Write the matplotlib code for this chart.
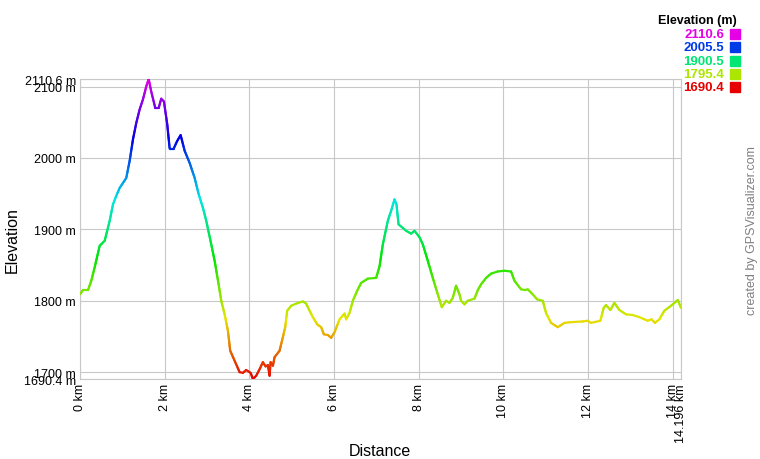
import numpy as np
import matplotlib
matplotlib.use("Agg")
import matplotlib.pyplot as plt
from matplotlib.collections import LineCollection
from matplotlib.colors import hsv_to_rgb
from matplotlib.patches import Rectangle

plt.rcParams['font.family'] = ['Liberation Sans', 'DejaVu Sans']

# ================= DATA =================
distance_km = [
    0.0, 0.071, 0.189, 0.267, 0.347, 0.465, 0.583, 0.701, 0.779, 0.857,
    0.937, 1.093, 1.173, 1.251, 1.329, 1.409, 1.487, 1.565, 1.622, 1.683,
    1.778, 1.858, 1.919, 1.983, 2.061, 2.118, 2.212, 2.297, 2.377, 2.472,
    2.590, 2.708, 2.800, 2.904, 2.982, 3.100, 3.180, 3.274, 3.336, 3.416,
    3.494, 3.548, 3.652, 3.770, 3.848, 3.926, 4.030, 4.084, 4.162, 4.242,
    4.320, 4.384, 4.438, 4.478, 4.502, 4.556, 4.596, 4.714, 4.792, 4.847,
    4.894, 4.988, 5.106, 5.264, 5.342, 5.423, 5.500, 5.602, 5.696, 5.760,
    5.855, 5.932, 6.013, 6.131, 6.249, 6.287, 6.367, 6.445, 6.546, 6.641,
    6.799, 6.995, 7.075, 7.153, 7.271, 7.349, 7.429, 7.476, 7.524, 7.625,
    7.703, 7.821, 7.901, 8.019, 8.097, 8.215, 8.333, 8.451, 8.546, 8.647,
    8.727, 8.805, 8.883, 8.963, 9.001, 9.082, 9.160, 9.318, 9.396, 9.474,
    9.592, 9.710, 9.868, 10.026, 10.182, 10.262, 10.418, 10.512, 10.576, 10.694,
    10.796, 10.930, 11.008, 11.126, 11.284, 11.442, 11.598, 11.874, 11.992, 12.070,
    12.292, 12.370, 12.424, 12.528, 12.623, 12.741, 12.897, 13.055, 13.213, 13.409,
    13.501, 13.581, 13.685, 13.803, 13.961, 14.120, 14.196,
]
elevation_m = [
    1809, 1815, 1815, 1828, 1847, 1877, 1884, 1912, 1935, 1947,
    1958, 1972, 1996, 2026, 2049, 2068, 2082, 2100, 2110.6, 2093,
    2070, 2070, 2083, 2079, 2047, 2013, 2013, 2024, 2032, 2010,
    1993, 1972, 1950, 1930, 1912, 1879, 1856, 1823, 1800, 1781,
    1758, 1730, 1716, 1700, 1699, 1703, 1699, 1690.4, 1695, 1704,
    1714, 1708, 1710, 1695, 1714, 1709, 1721, 1730, 1749, 1763,
    1786, 1793, 1796, 1799, 1796, 1786, 1777, 1767, 1763, 1753,
    1752, 1748, 1756, 1774, 1782, 1774, 1783, 1800, 1814, 1825,
    1831, 1832, 1848, 1879, 1912, 1926, 1942, 1935, 1907, 1902,
    1898, 1894, 1898, 1889, 1879, 1856, 1832, 1809, 1791, 1800,
    1797, 1804, 1821, 1809, 1800, 1795, 1800, 1803, 1815, 1823,
    1832, 1838, 1841, 1842, 1841, 1828, 1816, 1815, 1816, 1809,
    1802, 1800, 1783, 1769, 1763, 1769, 1770, 1771, 1772, 1769,
    1772, 1790, 1794, 1787, 1797, 1787, 1781, 1780, 1777, 1772,
    1774, 1769, 1774, 1786, 1793, 1801, 1790,
]
legend_values = [2110.6, 2005.5, 1900.5, 1795.4, 1690.4]
y_ticks = [1690.4, 1700, 1800, 1900, 2000, 2100, 2110.6]
x_ticks = [0, 2, 4, 6, 8, 10, 12, 14, 14.196]

elev_min, elev_max = 1690.4, 2110.6
dist_max = 14.196


def elev_color(v):
    frac = (np.asarray(v, dtype=float) - elev_min) / (elev_max - elev_min)
    hue = np.clip(frac, 0, 1) * 300.0 / 360.0
    hsv = np.stack([hue, np.ones_like(hue), np.full_like(hue, 0.9)], axis=-1)
    return hsv_to_rgb(hsv)


W, H = 760, 460
fig = plt.figure(figsize=(W / 100, H / 100), dpi=100)
ax = fig.add_axes([80 / W, 1 - 380 / H, 601 / W, 300 / H])

# ================= LINE (gradient by elevation) =================
# each straight piece is cut in short sub-pieces only so the colour can fade
segs, cols = [], []
for i in range(len(distance_km) - 1):
    x0, x1 = distance_km[i], distance_km[i + 1]
    y0, y1 = elevation_m[i], elevation_m[i + 1]
    n = max(1, int(abs(y1 - y0) / 2))
    for k in range(n):
        t0, t1 = k / n, (k + 1) / n
        segs.append([(x0 + (x1 - x0) * t0, y0 + (y1 - y0) * t0),
                     (x0 + (x1 - x0) * t1, y0 + (y1 - y0) * t1)])
        cols.append(y0 + (y1 - y0) * (t0 + t1) / 2)

lc = LineCollection(segs, colors=elev_color(cols), linewidths=1.6,
                    capstyle='round', joinstyle='round', zorder=3)
ax.add_collection(lc)

ax.set_xlim(0, dist_max)
ax.set_ylim(elev_min, elev_max)

# ================= AXES =================
grid_col = '#c8c8c8'
ax.set_yticks(y_ticks)
ax.set_yticklabels([f"{v:g} m" for v in y_ticks])
ax.set_xticks(x_ticks)
ax.set_xticklabels([f"{v:g} km" for v in x_ticks], rotation=90, va='top')
ax.tick_params(length=0, pad=3, labelsize=9, colors='black')
ax.grid(True, color=grid_col, linewidth=0.8, zorder=0)
ax.set_axisbelow(True)
for s in ax.spines.values():
    s.set_color(grid_col)
    s.set_linewidth(0.8)

fig.text(380 / W, 1 - 452 / H, "Distance", ha='center', va='center', fontsize=11.5)
fig.text(12 / W, 1 - 240 / H, "Elevation", ha='center', va='center',
         rotation=90, fontsize=11.5)

# ================= LEGEND =================
fig.text(737 / W, 1 - 21 / H, "Elevation (m)", ha='right', va='center',
         fontsize=9, fontweight='bold')
for i, v in enumerate(legend_values):
    yc = 35 + i * 13.3
    c = elev_color(v)
    fig.text(724 / W, 1 - yc / H, f"{v:.1f}", ha='right', va='center',
             fontsize=9.5, fontweight='bold', color=c)
    fig.patches.append(Rectangle((730 / W, 1 - (yc + 5) / H), 10 / W, 10 / H,
                                 transform=fig.transFigure, color=c))

fig.text(752 / W, 1 - 231 / H, "created by GPSVisualizer.com", ha='center',
         va='center', rotation=90, fontsize=9, color='#808080')

fig.savefig("out.png", dpi=100)
plt.close(fig)
